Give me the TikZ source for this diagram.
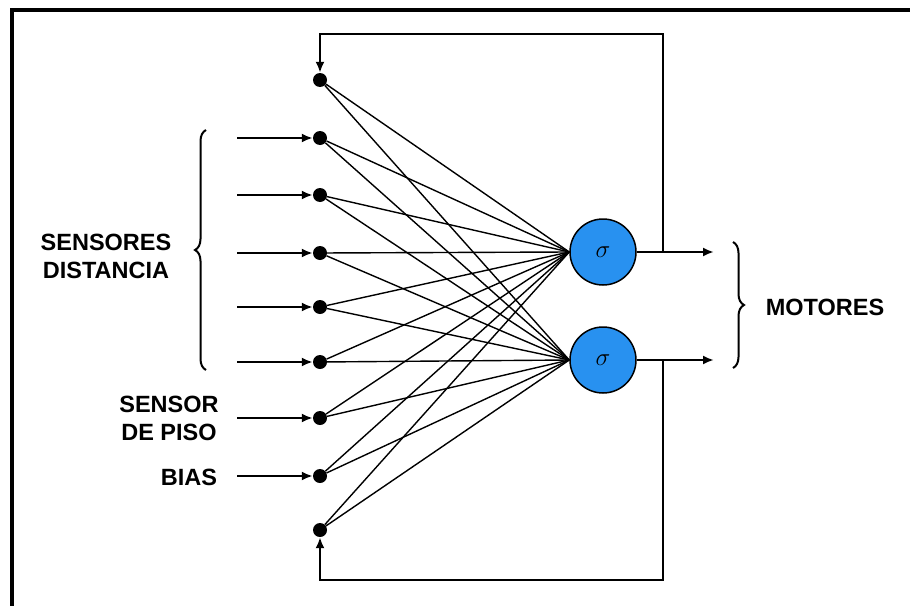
\documentclass[tikz,border=0pt]{standalone}
\usepackage{fontspec}
\setmainfont{Liberation Sans}
\usepackage{tikz}
\usetikzlibrary{arrows.meta}
\usetikzlibrary{calc}
\usetikzlibrary{decorations.pathreplacing}
\definecolor{sigblue}{RGB}{40,145,240}

\begin{document}
\begin{tikzpicture}[x=1pt,y=-1pt,
    dot/.style={circle,fill=black,inner sep=0pt,minimum size=14pt},
    neuron/.style={circle,draw,line width=1.5pt,fill=sigblue,minimum size=66pt,inner sep=0pt,font=\fontsize{26}{28}\selectfont},
    lbl/.style={font=\bfseries\fontsize{23.5}{28}\selectfont,align=center},
    wire/.style={line width=1.4pt},
    feed/.style={line width=2.2pt,-{Latex[length=11pt,width=9pt]}},
    brc/.style={line width=2pt,decorate,decoration={brace,amplitude=11pt}}]

        \useasboundingbox (0,0) rectangle (910,605);
        \draw[line width=4pt] (12,625) -- (12,10) -- (930,10);

        % neuronas de entrada
        \foreach \i/\y in {0/80,1/138,2/195,3/253,4/307,5/362,6/418,7/476,8/530}
          \node[dot] (n\i) at (320,\y) {};
        \foreach \i in {1,...,7}
          \coordinate (in\i) at ($(n\i)+(-83,0)$);

        \node[neuron] (s1) at (603,252) {$\sigma$};
        \node[neuron] (s2) at (603,360) {$\sigma$};

        \coordinate (o1) at (714,252);
        \coordinate (o2) at (714,360);
        \coordinate (j1) at (663,252);
        \coordinate (j2) at (663,360);
        \coordinate (c1) at (320,34);
        \coordinate (c2) at (320,580);

        \foreach \i in {1,...,7}
          \draw[feed] (in\i) -- (n\i);
        \foreach \i in {0,...,8}
          \draw[wire] (n\i) -- (s1.west) (n\i) -- (s2.west);

        \draw[feed] (s1) -- (o1);
        \draw[feed] (s2) -- (o2);
        \draw[feed] (j1) |- (c1) -- (n0);
        \draw[feed] (j2) |- (c2) -- (n8);

        \draw[brc] (206,370) -- (206,130);
        \draw[brc] (733,242) -- (733,368);

        \node[lbl] (dist) at (106,256) {SENSORES\\DISTANCIA};
        \node[lbl] (piso) at (169,418) {SENSOR\\DE PISO};
        \node[lbl] (bias) at (189,477) {BIAS};
        \node[lbl] (mot) at (825,307) {MOTORES};
\end{tikzpicture}
\end{document}
